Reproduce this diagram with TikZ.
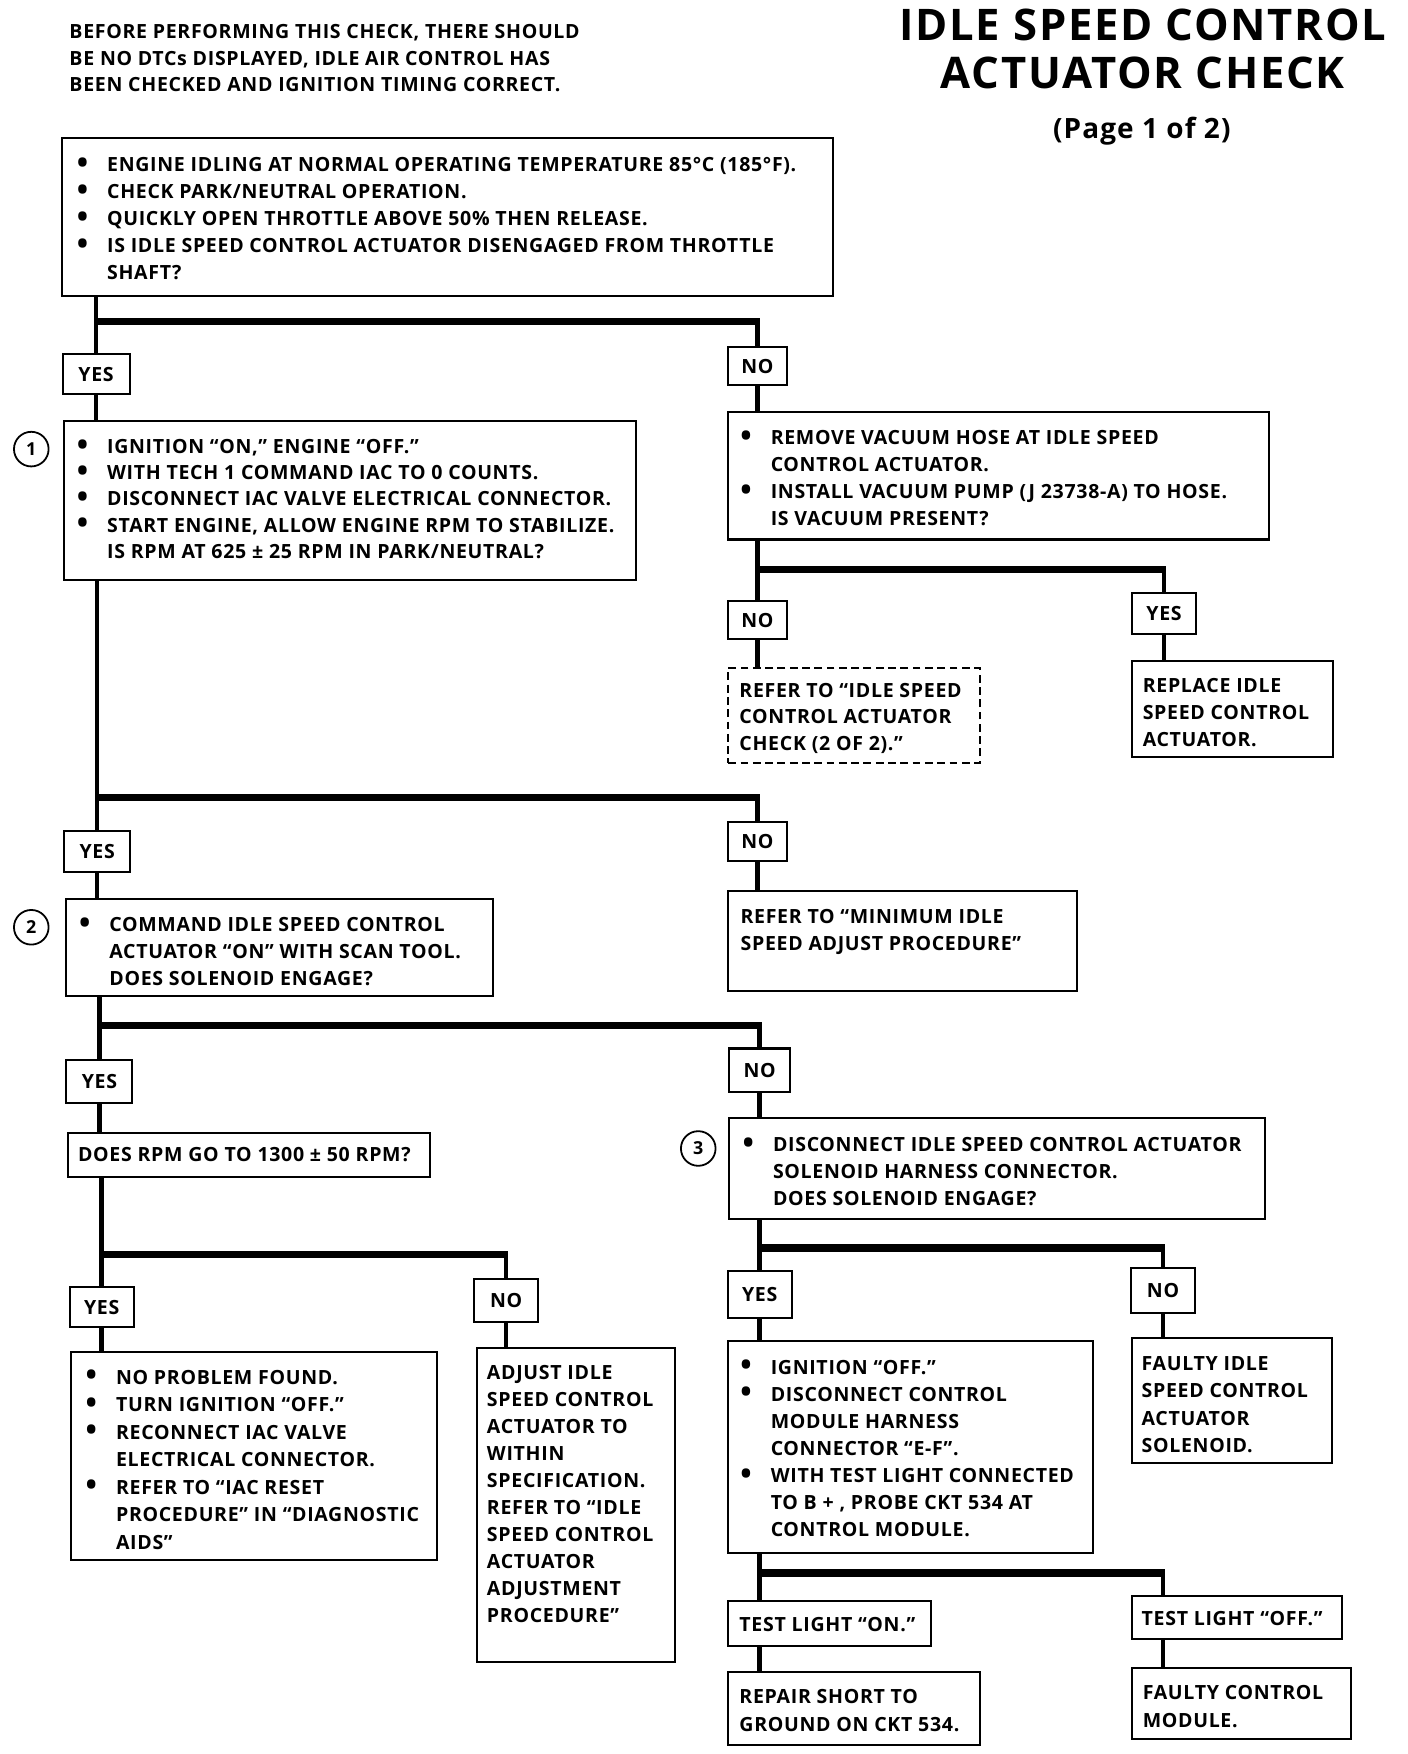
\documentclass[tikz,border=0pt]{standalone}
\usepackage{fontspec}
\setmainfont{Open Sans}[LetterSpace=3.5]
\newfontfamily\titlefont{Open Sans}[LetterSpace=4]
\newcommand\bx[6][24pt]{\parbox[c][#3][t]{#2}{\baselineskip=#1\relax\leftskip=#5\relax\vspace*{\dimexpr#4-#1\relax}\mbox{}\par #6}}
\newcommand\Li[1]{\leavevmode\mbox{#1}\par}
\newcommand\Bu[1]{\leavevmode\llap{\raisebox{-1.5pt}{\fontsize{27}{24}\selectfont\textbullet}\hspace{17pt}}\mbox{#1}\par}
\tikzset{
 box/.style={draw, line width=1.8pt, inner sep=0pt, anchor=north west},
 plain/.style={inner sep=0pt, anchor=north west},
 yn/.style={draw, line width=1.8pt, inner sep=0pt, align=center},
 vl/.style={line width=4pt},
 bar/.style={line width=6.5pt},
 num/.style={draw, circle, line width=1.6pt, minimum size=31pt, inner sep=0pt, font=\fontsize{16}{18}\selectfont\bfseries}
}
\begin{document}
\begin{tikzpicture}[x=1pt,y=-1pt,font=\fontsize{17.5}{24}\selectfont\bfseries]
\fill[white] (0,0) rectangle (1260,1570);
\useasboundingbox (0,0) rectangle (1260,1570);
% header and title
\node[plain] (hdr) at (62,14) {\bx{480pt}{80pt}{20pt}{0pt}{\Li{BEFORE PERFORMING THIS CHECK, THERE SHOULD}\Li{BE NO DTCs DISPLAYED, IDLE AIR CONTROL HAS}\Li{BEEN CHECKED AND IGNITION TIMING CORRECT.}}};
\node[align=center, font=\titlefont\fontsize{39}{43}\selectfont\bfseries] (title) at (1023,44) {IDLE SPEED CONTROL\\ACTUATOR CHECK};
\node[font=\titlefont\fontsize{25}{28}\selectfont\bfseries] (page) at (1022,117) {(Page 1 of 2)};
% boxes
\node[box] (a) at (55,123) {\bx{690pt}{141pt}{30pt}{40pt}{\Bu{ENGINE IDLING AT NORMAL OPERATING TEMPERATURE 85°C (185°F).}\Bu{CHECK PARK/NEUTRAL OPERATION.}\Bu{QUICKLY OPEN THROTTLE ABOVE 50\% THEN RELEASE.}\Bu{IS IDLE SPEED CONTROL ACTUATOR DISENGAGED FROM THROTTLE}\Li{SHAFT?}}};
\node[box] (c1) at (56,376) {\bx[23.5pt]{512pt}{142pt}{29pt}{39pt}{\Bu{IGNITION “ON,” ENGINE “OFF.”}\Bu{WITH TECH 1 COMMAND IAC TO 0 COUNTS.}\Bu{DISCONNECT IAC VALVE ELECTRICAL CONNECTOR.}\Bu{START ENGINE, ALLOW ENGINE RPM TO STABILIZE.}\Li{IS RPM AT 625 ± 25 RPM IN PARK/NEUTRAL?}}};
\node[box] (vac) at (651,368) {\bx[24.3pt]{484pt}{114pt}{29pt}{38pt}{\Bu{REMOVE VACUUM HOSE AT IDLE SPEED}\Li{CONTROL ACTUATOR.}\Bu{INSTALL VACUUM PUMP (J 23738-A) TO HOSE.}\Li{IS VACUUM PRESENT?}}};
\node[box, dashed, dash pattern=on 7pt off 4pt] (ref2) at (651,597) {\bx{225pt}{85pt}{26pt}{10pt}{\Li{REFER TO “IDLE SPEED}\Li{CONTROL ACTUATOR}\Li{CHECK (2 OF 2).”}}};
\node[box] (rep) at (1012,591) {\bx[24pt]{180pt}{86pt}{28pt}{10pt}{\Li{REPLACE IDLE}\Li{SPEED CONTROL}\Li{ACTUATOR.}}};
\node[box] (c2) at (58,804) {\bx{382pt}{87pt}{29pt}{39pt}{\Bu{COMMAND IDLE SPEED CONTROL}\Li{ACTUATOR “ON” WITH SCAN TOOL.}\Li{DOES SOLENOID ENGAGE?}}};
\node[box] (mini) at (651,797) {\bx{312pt}{89pt}{29pt}{11pt}{\Li{REFER TO “MINIMUM IDLE}\Li{SPEED ADJUST PROCEDURE”}}};
\node[box] (rpm) at (60,1013) {\bx{324pt}{40pt}{26pt}{9pt}{\Li{DOES RPM GO TO 1300 ± 50 RPM?}}};
\node[box] (c3) at (652,1000) {\bx{479pt}{90pt}{30pt}{39pt}{\Bu{DISCONNECT IDLE SPEED CONTROL ACTUATOR}\Li{SOLENOID HARNESS CONNECTOR.}\Li{DOES SOLENOID ENGAGE?}}};
\node[box] (nop) at (63,1209) {\bx[24.6pt]{327pt}{186pt}{29pt}{40pt}{\Bu{NO PROBLEM FOUND.}\Bu{TURN IGNITION “OFF.”}\Bu{RECONNECT IAC VALVE}\Li{ELECTRICAL CONNECTOR.}\Bu{REFER TO “IAC RESET}\Li{PROCEDURE” IN “DIAGNOSTIC}\Li{AIDS”}}};
\node[box] (adj) at (426,1206) {\bx[24.2pt]{177pt}{281pt}{28pt}{9pt}{\Li{ADJUST IDLE}\Li{SPEED CONTROL}\Li{ACTUATOR TO}\Li{WITHIN}\Li{SPECIFICATION.}\Li{REFER TO “IDLE}\Li{SPEED CONTROL}\Li{ACTUATOR}\Li{ADJUSTMENT}\Li{PROCEDURE”}}};
\node[box] (ign) at (651,1199) {\bx[24.3pt]{326pt}{190pt}{30pt}{38pt}{\Bu{IGNITION “OFF.”}\Bu{DISCONNECT CONTROL}\Li{MODULE HARNESS}\Li{CONNECTOR “E-F”.}\Bu{WITH TEST LIGHT CONNECTED}\Li{TO B + , PROBE CKT 534 AT}\Li{CONTROL MODULE.}}};
\node[box] (fsol) at (1012,1197) {\bx[24.3pt]{179pt}{112pt}{29pt}{9pt}{\Li{FAULTY IDLE}\Li{SPEED CONTROL}\Li{ACTUATOR}\Li{SOLENOID.}}};
\node[box] (ton) at (651,1432) {\bx{181pt}{40pt}{27pt}{10pt}{\Li{TEST LIGHT “ON.”}}};
\node[box] (toff) at (1012,1428) {\bx{188pt}{38pt}{26pt}{9pt}{\Li{TEST LIGHT “OFF.”}}};
\node[box] (rsh) at (651,1496) {\bx[25pt]{225pt}{65pt}{28pt}{10pt}{\Li{REPAIR SHORT TO}\Li{GROUND ON CKT 534.}}};
\node[box] (fcm) at (1012,1492) {\bx[25pt]{196pt}{64pt}{28pt}{10pt}{\Li{FAULTY CONTROL}\Li{MODULE.}}};
% yes / no
\node[yn, minimum width=60pt, minimum height=36pt] (y1) at (86,335) {YES};
\node[yn, minimum width=53pt, minimum height=34pt] (n1) at (678,328) {NO};
\node[yn, minimum width=53pt, minimum height=34pt] (n2) at (678,555) {NO};
\node[yn, minimum width=57pt, minimum height=37pt] (y2) at (1042,549) {YES};
\node[yn, minimum width=59pt, minimum height=37pt] (y3) at (87,762) {YES};
\node[yn, minimum width=53pt, minimum height=35pt] (n3) at (678,753) {NO};
\node[yn, minimum width=59pt, minimum height=39pt] (y4) at (89,968) {YES};
\node[yn, minimum width=55pt, minimum height=39pt] (n4) at (680,958) {NO};
\node[yn, minimum width=57pt, minimum height=36pt] (y5) at (91,1170) {YES};
\node[yn, minimum width=57pt, minimum height=38pt] (n5) at (453,1164) {NO};
\node[yn, minimum width=57pt, minimum height=42pt] (y6) at (680,1159) {YES};
\node[yn, minimum width=57pt, minimum height=40pt] (n6) at (1041,1155) {NO};
% numbers
\node[num] (k1) at (28,402) {1};
\node[num] (k2) at (28,830) {2};
\node[num] (k3) at (625,1028) {3};
% junctions
\coordinate (b1) at (86,288);
\coordinate (b2) at (678,510);
\coordinate (b3) at (87,714);
\coordinate (b4) at (89,918);
\coordinate (b5) at (680,1117);
\coordinate (b6) at (91,1123);
\coordinate (b7) at (680,1408);
% connectors
\draw[vl] (a.south -| y1) -- (y1.north);
\draw[vl] (y1.south) -- (y1.south |- c1.north);
\draw[bar] (b1) -- ([xshift=2pt]b1 -| n1);
\draw[vl] ([yshift=3pt]b1 -| n1) -- (n1.north);
\draw[vl] (n1.south) -- (n1.south |- vac.north);
\draw[vl] (vac.south -| n2) -- (n2.north);
\draw[bar] (b2) -- ([xshift=2pt]b2 -| y2);
\draw[vl] ([yshift=3pt]b2 -| y2) -- (y2.north);
\draw[vl] (n2.south) -- (n2.south |- ref2.north);
\draw[vl] (y2.south) -- (y2.south |- rep.north);
\draw[vl] (c1.south -| y3) -- (y3.north);
\draw[bar] (b3) -- ([xshift=2pt]b3 -| n3);
\draw[vl] ([yshift=3pt]b3 -| n3) -- (n3.north);
\draw[vl] (y3.south) -- (y3.south |- c2.north);
\draw[vl] (n3.south) -- (n3.south |- mini.north);
\draw[vl] (c2.south -| y4) -- (y4.north);
\draw[bar] (b4) -- ([xshift=2pt]b4 -| n4);
\draw[vl] ([yshift=3pt]b4 -| n4) -- (n4.north);
\draw[vl] (y4.south) -- (y4.south |- rpm.north);
\draw[vl] (n4.south) -- (n4.south |- c3.north);
\draw[vl] (rpm.south -| y5) -- (y5.north);
\draw[bar] (b6) -- ([xshift=2pt]b6 -| n5);
\draw[vl] ([yshift=3pt]b6 -| n5) -- (n5.north);
\draw[vl] (y5.south) -- (y5.south |- nop.north);
\draw[vl] (n5.south) -- (n5.south |- adj.north);
\draw[vl] (c3.south -| y6) -- (y6.north);
\draw[bar] (b5) -- ([xshift=2pt]b5 -| n6);
\draw[vl] ([yshift=3pt]b5 -| n6) -- (n6.north);
\draw[vl] (y6.south) -- (y6.south |- ign.north);
\draw[vl] (n6.south) -- (n6.south |- fsol.north);
\draw[vl] (ign.south -| b7) -- (b7 |- ton.north);
\draw[bar] (b7) -- ([xshift=2pt]b7 -| n6);
\draw[vl] ([yshift=3pt]b7 -| n6) -- (n6 |- toff.north);
\draw[vl] (ton.south -| b7) -- (b7 |- rsh.north);
\draw[vl] (toff.south -| n6) -- (n6 |- fcm.north);
\end{tikzpicture}
\end{document}
